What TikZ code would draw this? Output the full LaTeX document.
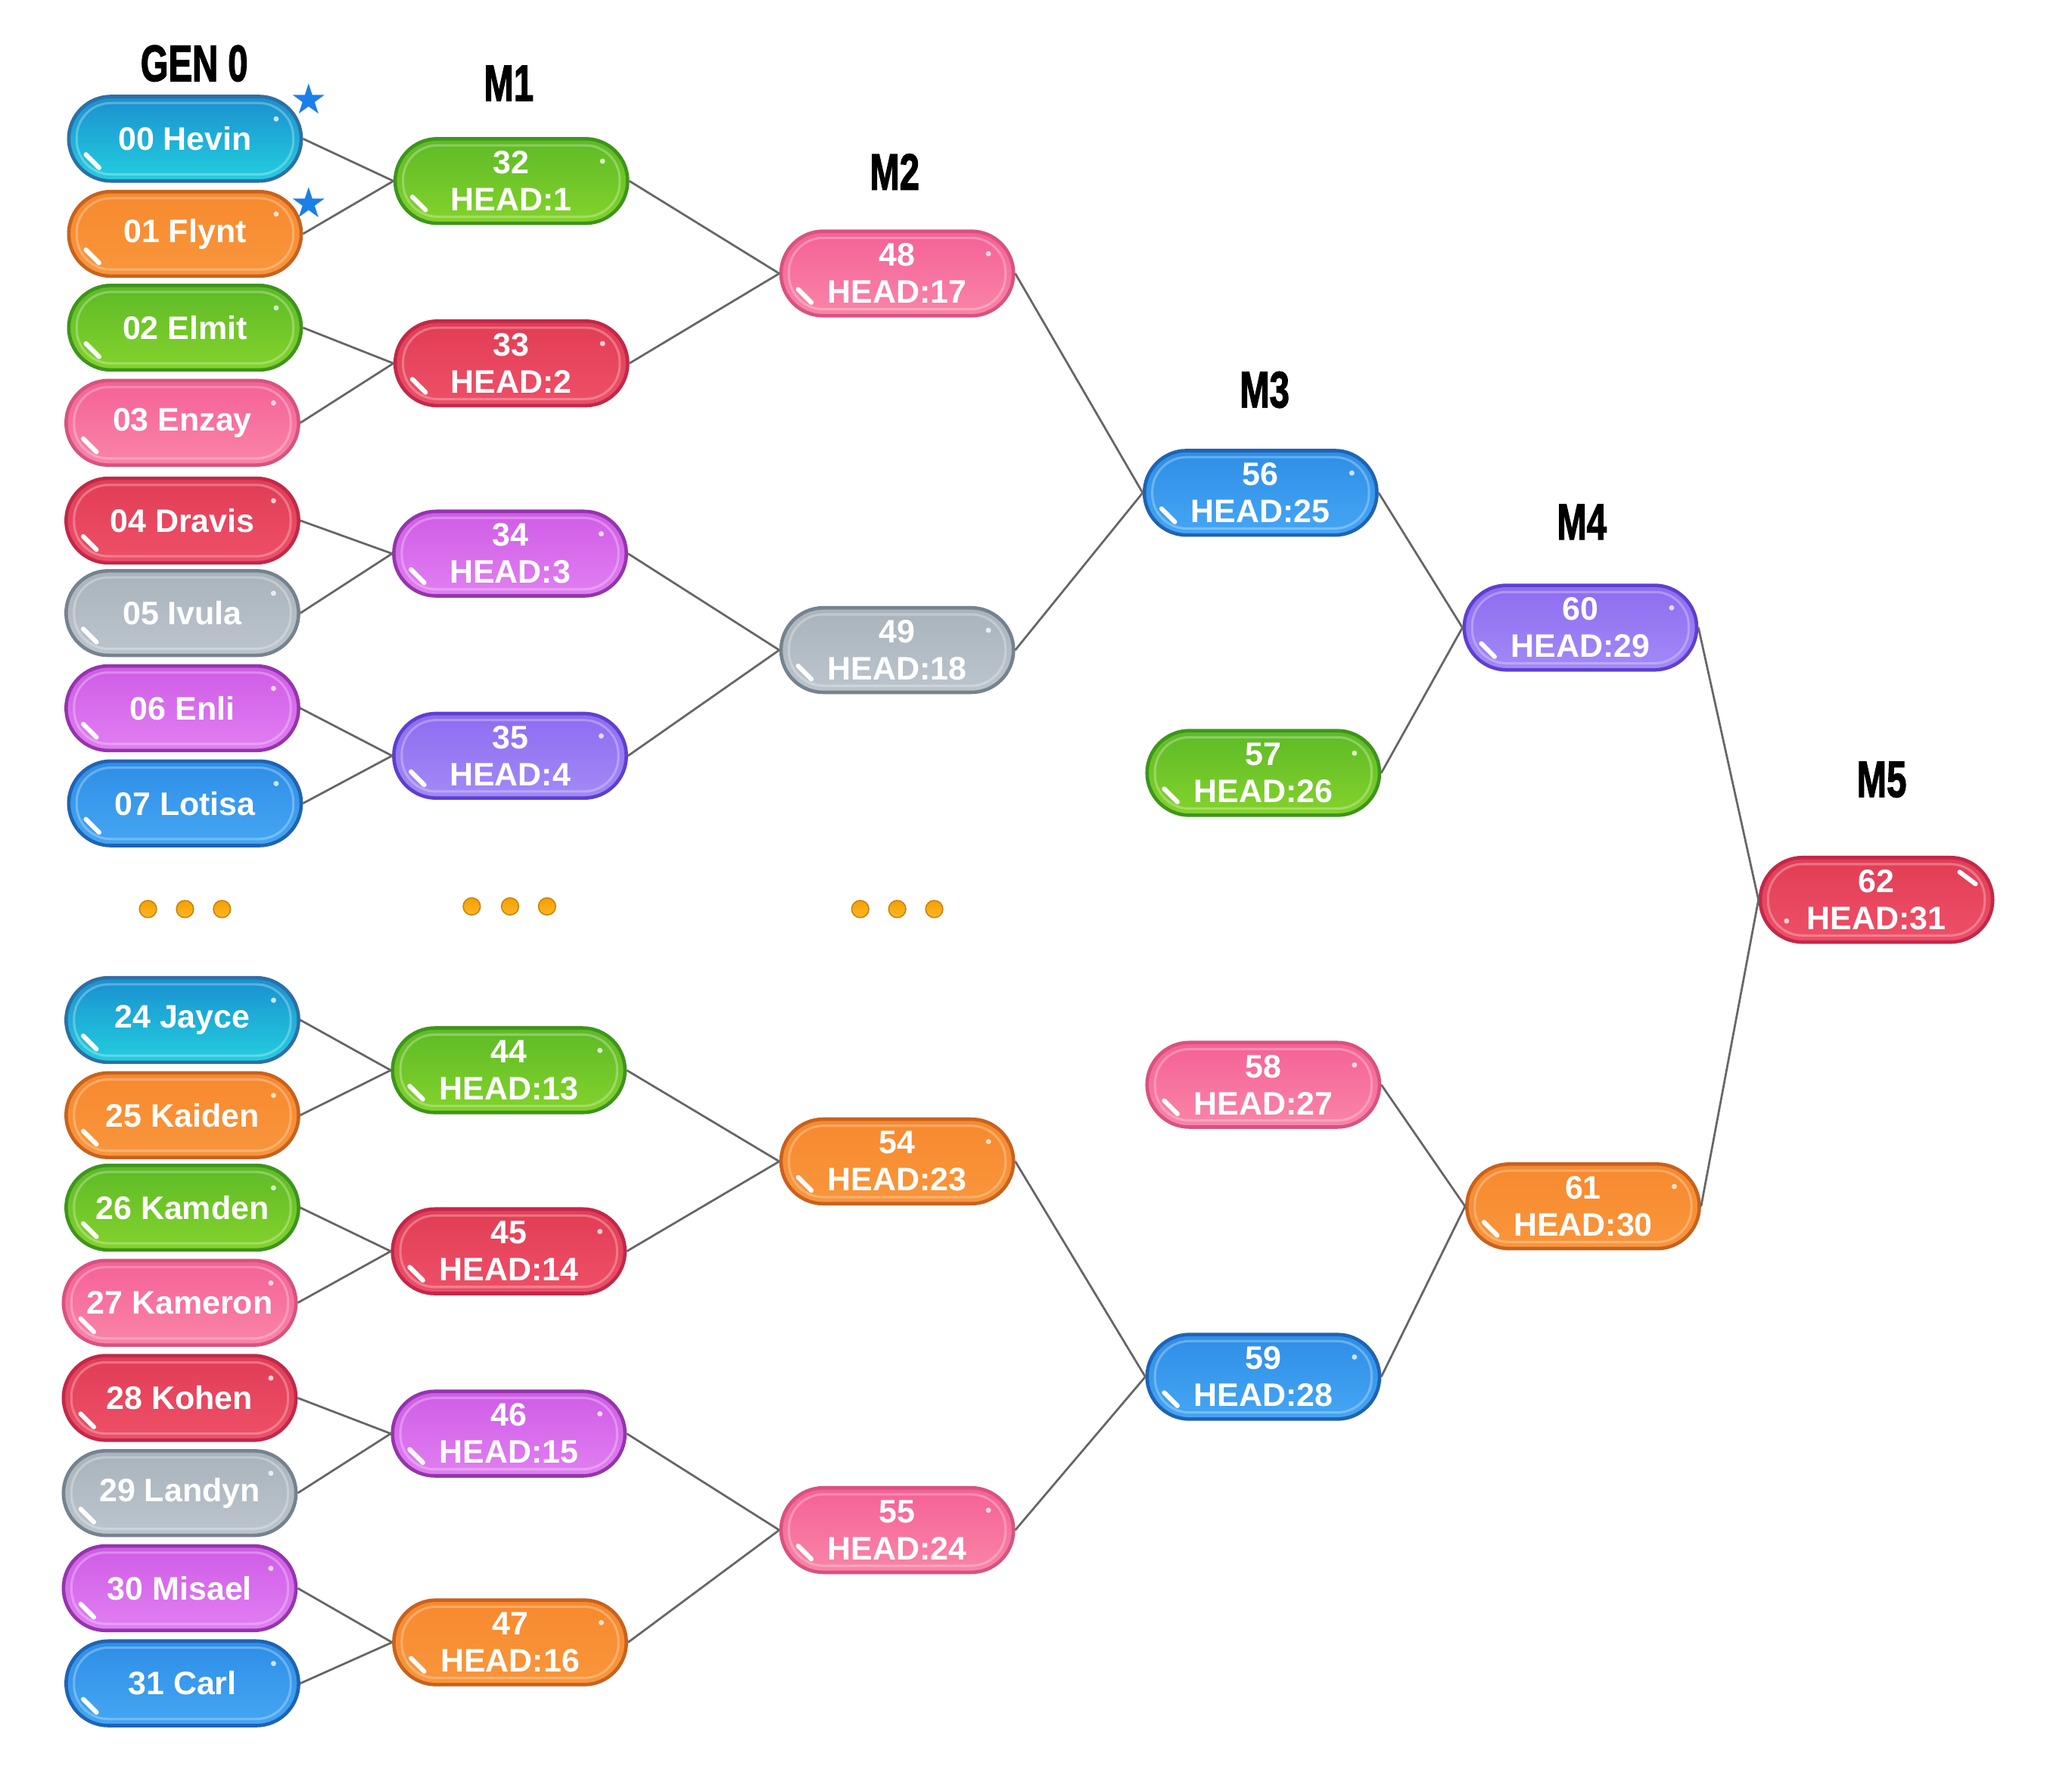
\documentclass[tikz,border=0pt]{standalone}
\usepackage{graphicx}
\usepackage{fontspec}
\setmainfont{Liberation Sans}
\newfontfamily\headfont[FakeBold=2.2]{Liberation Sans Bold}
\newfontfamily\symbolfont{DejaVu Sans}
\usetikzlibrary{shapes.misc}
\newcommand{\stagetxt}[1]{\scalebox{.7}[1]{#1}}
% pill colours: top, bottom, border
\definecolor{cyT}{HTML}{1A8FD0}\definecolor{cyB}{HTML}{24CFDF}\definecolor{cyD}{HTML}{2E6FA6}
\definecolor{orT}{HTML}{F7892E}\definecolor{orB}{HTML}{F9963C}\definecolor{orD}{HTML}{C8621E}
\definecolor{grT}{HTML}{5DBA26}\definecolor{grB}{HTML}{84D32C}\definecolor{grD}{HTML}{3E951C}
\definecolor{pkT}{HTML}{F56196}\definecolor{pkB}{HTML}{F985A8}\definecolor{pkD}{HTML}{D9527F}
\definecolor{rdT}{HTML}{E13D55}\definecolor{rdB}{HTML}{EE5068}\definecolor{rdD}{HTML}{C2284A}
\definecolor{gyT}{HTML}{A9B3BC}\definecolor{gyB}{HTML}{BCC5CD}\definecolor{gyD}{HTML}{76828E}
\definecolor{mgT}{HTML}{CF5CE6}\definecolor{mgB}{HTML}{E17FF2}\definecolor{mgD}{HTML}{9435AC}
\definecolor{blT}{HTML}{2E8EE6}\definecolor{blB}{HTML}{45A6F4}\definecolor{blD}{HTML}{1F63B4}
\definecolor{vtT}{HTML}{8E6CF0}\definecolor{vtB}{HTML}{A28AF7}\definecolor{vtD}{HTML}{5E3FCF}
\definecolor{linegray}{HTML}{666666}
\definecolor{starblue}{HTML}{1A7FE8}
\definecolor{dotT}{HTML}{F3A000}\definecolor{dotB}{HTML}{FFB52A}\definecolor{dotD}{HTML}{C98100}
\tikzset{
  rim/.style = {white, opacity=.28, line width=1pt, rounded corners=0.52cm},
  pill/.style = {rounded rectangle, line width=1.5pt, minimum width=3.52cm, minimum height=1.28cm, inner sep=0pt, align=center, text=white, font=\bfseries\fontsize{14}{16}\selectfont,
    path picture={
      \draw[rim] ([shift={(0.12cm,0.1cm)}]path picture bounding box.south west) rectangle ([shift={(-0.12cm,-0.1cm)}]path picture bounding box.north east);
      \draw[white, line width=2pt, line cap=round] ([shift={(0.26cm,0.40cm)}]path picture bounding box.south west) -- ++(0.2cm,-0.2cm);
      \fill[white, opacity=.75] ([shift={(-0.38cm,-0.34cm)}]path picture bounding box.north east) circle (0.04cm);
    }},
  pill_flip/.style = {rounded rectangle, line width=1.5pt, minimum width=3.52cm, minimum height=1.28cm, inner sep=0pt, align=center, text=white, font=\bfseries\fontsize{14}{16}\selectfont,
    path picture={
      \draw[rim] ([shift={(0.12cm,0.1cm)}]path picture bounding box.south west) rectangle ([shift={(-0.12cm,-0.1cm)}]path picture bounding box.north east);
      \draw[white, line width=2pt, line cap=round] ([shift={(-0.5cm,-0.22cm)}]path picture bounding box.north east) -- ++(0.24cm,-0.18cm);
      \fill[white, opacity=.75] ([shift={(0.4cm,0.32cm)}]path picture bounding box.south west) circle (0.04cm);
    }},
  pill_cy/.style = {pill, draw=cyD, top color=cyT, bottom color=cyB},
  pill_or/.style = {pill, draw=orD, top color=orT, bottom color=orB},
  pill_gr/.style = {pill, draw=grD, top color=grT, bottom color=grB},
  pill_pk/.style = {pill, draw=pkD, top color=pkT, bottom color=pkB},
  pill_rd/.style = {pill, draw=rdD, top color=rdT, bottom color=rdB},
  pill_gy/.style = {pill, draw=gyD, top color=gyT, bottom color=gyB},
  pill_mg/.style = {pill, draw=mgD, top color=mgT, bottom color=mgB},
  pill_bl/.style = {pill, draw=blD, top color=blT, bottom color=blB},
  pill_vt/.style = {pill, draw=vtD, top color=vtT, bottom color=vtB},
  stage/.style = {font=\headfont\fontsize{22}{22}\selectfont, inner sep=0pt},
  link/.style = {draw=linegray, line width=0.9pt},
  star_n/.style = {text=starblue, font=\symbolfont\fontsize{18}{18}\selectfont, inner sep=0pt},
  dot_n/.style = {draw=dotD, line width=0.5pt, top color=dotT, bottom color=dotB}
}
\begin{document}
\begin{tikzpicture}[x=0.02cm, y=-0.02cm]
    \useasboundingbox (0,0) rectangle (1568,1350.4);
    % stage headers
    \node[stage] (h0) at (147,48) {\stagetxt{GEN 0}};
    \node[stage] (h1) at (385,63) {\stagetxt{M1}};
    \node[stage] (h2) at (677,130) {\stagetxt{M2}};
    \node[stage] (h3) at (957,295) {\stagetxt{M3}};
    \node[stage] (h4) at (1197,395) {\stagetxt{M4}};
    \node[stage] (h5) at (1424,590) {\stagetxt{M5}};
    % generation 0
    \node[pill_cy] (g00) at (140,105) {00 Hevin};
    \node[pill_or] (g01) at (140,177) {01 Flynt};
    \node[pill_gr] (g02) at (140,248) {02 Elmit};
    \node[pill_pk] (g03) at (138,320) {03 Enzay};
    \node[pill_rd] (g04) at (138,394) {04 Dravis};
    \node[pill_gy] (g05) at (138,464) {05 Ivula};
    \node[pill_mg] (g06) at (138,536) {06 Enli};
    \node[pill_bl] (g07) at (140,608) {07 Lotisa};
    \node[pill_cy] (g24) at (138,772) {24 Jayce};
    \node[pill_or] (g25) at (138,844) {25 Kaiden};
    \node[pill_gr] (g26) at (138,914) {26 Kamden};
    \node[pill_pk] (g27) at (136,986) {27 Kameron};
    \node[pill_rd] (g28) at (136,1058) {28 Kohen};
    \node[pill_gy] (g29) at (136,1130) {29 Landyn};
    \node[pill_mg] (g30) at (136,1202) {30 Misael};
    \node[pill_bl] (g31) at (138,1274) {31 Carl};
    \node[star_n] (star_a) at (234,75) {★};
    \node[star_n] (star_b) at (234,153) {★};
    % M1
    \node[pill_gr] (m32) at (387,137) {32\\HEAD:1};
    \node[pill_rd] (m33) at (387,275) {33\\HEAD:2};
    \node[pill_mg] (m34) at (386,419) {34\\HEAD:3};
    \node[pill_vt] (m35) at (386,572) {35\\HEAD:4};
    \node[pill_gr] (m44) at (385,810) {44\\HEAD:13};
    \node[pill_rd] (m45) at (385,947) {45\\HEAD:14};
    \node[pill_mg] (m46) at (385,1085) {46\\HEAD:15};
    \node[pill_or] (m47) at (386,1243) {47\\HEAD:16};
    % M2
    \node[pill_pk] (m48) at (679,207) {48\\HEAD:17};
    \node[pill_gy] (m49) at (679,492) {49\\HEAD:18};
    \node[pill_or] (m54) at (679,879) {54\\HEAD:23};
    \node[pill_pk] (m55) at (679,1158) {55\\HEAD:24};
    % M3
    \node[pill_bl] (m56) at (954,373) {56\\HEAD:25};
    \node[pill_gr] (m57) at (956,585) {57\\HEAD:26};
    \node[pill_pk] (m58) at (956,821) {58\\HEAD:27};
    \node[pill_bl] (m59) at (956,1042) {59\\HEAD:28};
    % M4, M5
    \node[pill_vt] (m60) at (1196,475) {60\\HEAD:29};
    \node[pill_or] (m61) at (1198,913) {61\\HEAD:30};
    \node[pill_flip, draw=rdD, top color=rdT, bottom color=rdB] (m62) at (1420,681) {62\\HEAD:31};
    % elided rows
    \foreach \x/\y in {112/688, 140/688, 168/688, 357/686, 386/686, 414/686, 651/688, 679/688, 707/688}
        \path[dot_n] (\x,\y) circle (0.13cm);
    % links
    \foreach \a/\b in {g00/m32, g01/m32, g02/m33, g03/m33, g04/m34, g05/m34, g06/m35, g07/m35,
                       g24/m44, g25/m44, g26/m45, g27/m45, g28/m46, g29/m46, g30/m47, g31/m47,
                       m32/m48, m33/m48, m34/m49, m35/m49, m44/m54, m45/m54, m46/m55, m47/m55,
                       m48/m56, m49/m56, m54/m59, m55/m59, m56/m60, m57/m60, m58/m61, m59/m61,
                       m60/m62, m61/m62}
        \draw[link] (\a.east) -- (\b.west);
\end{tikzpicture}
\end{document}
